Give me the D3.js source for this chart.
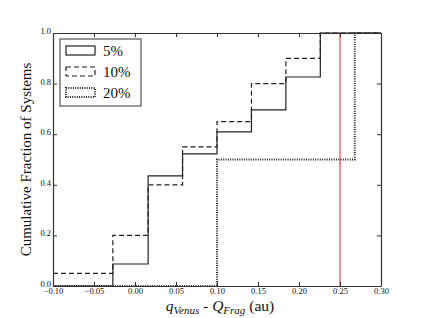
<!DOCTYPE html>
<html>
<head>
<meta charset="utf-8">
<script src="https://cdn.jsdelivr.net/npm/d3@7"></script>
<style>
  body { margin: 0; background: #fff; }
  svg text { font-family: "Liberation Serif", "Times New Roman", Times, "DejaVu Serif", serif !important; }
</style>
</head>
<body>
<div id="vis"></div>
<script>
const FRAME_WIDTH = 424;
const FRAME_HEIGHT = 318;
const MARGINS = {left: 53, right: 43, top: 33, bottom: 32};

// data
const X_TICKS = [-0.10, -0.05, 0.00, 0.05, 0.10, 0.15, 0.20, 0.25, 0.30];
const Y_TICKS = [0.0, 0.2, 0.4, 0.6, 0.8, 1.0];

const EDGES_5 = [-0.10, -0.027, 0.016, 0.058, 0.100, 0.142, 0.184, 0.226, 0.30];
const CUM_5 = [0.0, 0.087, 0.435, 0.522, 0.609, 0.696, 0.826, 1.0, 1.0];

const EDGES_10 = [-0.10, -0.027, 0.016, 0.058, 0.100, 0.142, 0.184, 0.226, 0.30];
const CUM_10 = [0.05, 0.20, 0.40, 0.55, 0.65, 0.80, 0.90, 1.0, 1.0];

const EDGES_20 = [-0.10, 0.100, 0.268, 0.30];
const CUM_20 = [0.0, 0.5, 1.0, 1.0];

const VENUS_LINE = 0.25;

const SERIES = [
  {label: "5%", edges: EDGES_5, cum: CUM_5, dash: null, width: 1.2},
  {label: "10%", edges: EDGES_10, cum: CUM_10, dash: "5,3", width: 1.2},
  {label: "20%", edges: EDGES_20, cum: CUM_20, dash: "1,1.3", width: 2}
];

const VIS_WIDTH = FRAME_WIDTH - MARGINS.left - MARGINS.right;
const VIS_HEIGHT = FRAME_HEIGHT - MARGINS.top - MARGINS.bottom;

const FRAME = d3.select("#vis")
  .append("svg")
    .attr("width", FRAME_WIDTH)
    .attr("height", FRAME_HEIGHT);

const X_SCALE = d3.scaleLinear().domain([-0.10, 0.30]).range([MARGINS.left, MARGINS.left + VIS_WIDTH]);
const Y_SCALE = d3.scaleLinear().domain([0, 1]).range([MARGINS.top + VIS_HEIGHT, MARGINS.top]);

// step curves
const stepLine = d3.line()
  .x(d => X_SCALE(d[0]))
  .y(d => Y_SCALE(d[1]))
  .curve(d3.curveStepAfter);

SERIES.forEach(s => {
  const pts = s.edges.map((e, i) => [e, s.cum[i]]);
  FRAME.append("path")
    .attr("d", stepLine(pts))
    .attr("fill", "none")
    .attr("stroke", "#222")
    .attr("stroke-width", s.width)
    .attr("stroke-dasharray", s.dash);
});

// red vertical line
FRAME.append("line")
  .attr("x1", X_SCALE(VENUS_LINE)).attr("x2", X_SCALE(VENUS_LINE))
  .attr("y1", Y_SCALE(0)).attr("y2", Y_SCALE(1))
  .attr("stroke", "#e02020")
  .attr("stroke-width", 1);

// axes, ticks pointing inward on all sides
const fmtX = d => d3.format(".2f")(d).replace("-", "\u2212");
const fmtY = d3.format(".1f");

const axBottom = FRAME.append("g")
  .attr("transform", "translate(0," + Y_SCALE(0) + ")")
  .call(d3.axisBottom(X_SCALE).tickValues(X_TICKS).tickFormat(fmtX).tickSizeInner(-4).tickSizeOuter(0).tickPadding(2));
const axTop = FRAME.append("g")
  .attr("transform", "translate(0," + Y_SCALE(1) + ")")
  .call(d3.axisTop(X_SCALE).tickValues(X_TICKS).tickFormat("").tickSizeInner(-4).tickSizeOuter(0));
const axLeft = FRAME.append("g")
  .attr("transform", "translate(" + X_SCALE(-0.10) + ",0)")
  .call(d3.axisLeft(Y_SCALE).tickValues(Y_TICKS).tickFormat(fmtY).tickSizeInner(-4).tickSizeOuter(0).tickPadding(2));
const axRight = FRAME.append("g")
  .attr("transform", "translate(" + X_SCALE(0.30) + ",0)")
  .call(d3.axisRight(Y_SCALE).tickValues(Y_TICKS).tickFormat("").tickSizeInner(-4).tickSizeOuter(0));

[axBottom, axTop, axLeft, axRight].forEach(g => {
  g.attr("font-family", null);
  g.select(".domain").attr("stroke", "#333").attr("stroke-width", 1.2);
  g.selectAll(".tick line").attr("stroke", "#333");
  g.selectAll("text")
    .attr("font-size", 8.5)
    .attr("fill", "#111");
});
axLeft.selectAll(".tick text").attr("dy", "0.05em");
axBottom.selectAll(".tick text").attr("dy", "0.75em");

// legend
const legend = FRAME.append("g").attr("transform", "translate(60,39)");
legend.append("rect")
  .attr("width", 81).attr("height", 67)
  .attr("fill", "#fff")
  .attr("stroke", "#333")
  .attr("stroke-width", 1);
SERIES.forEach((s, i) => {
  const yy = 7 + i * 21;
  legend.append("rect")
    .attr("x", 6).attr("y", yy)
    .attr("width", 29).attr("height", 9)
    .attr("fill", "none")
    .attr("stroke", "#222")
    .attr("stroke-width", s.width)
    .attr("stroke-dasharray", s.dash);
  legend.append("text")
    .attr("x", 43).attr("y", yy + 10)
    .attr("font-size", 15)
    .attr("fill", "#111")
    .text(s.label);
});

// axis labels
FRAME.append("text")
  .attr("transform", "translate(31," + (MARGINS.top + VIS_HEIGHT / 2) + ") rotate(-90)")
  .attr("text-anchor", "middle")
  .attr("font-size", 15)
  .attr("fill", "#111")
  .text("Cumulative Fraction of Systems");

const xlab = FRAME.append("text")
  .attr("x", MARGINS.left + VIS_WIDTH / 2 + 3)
  .attr("y", 310.5)
  .attr("text-anchor", "middle")
  .attr("font-size", 15.5)
  .attr("fill", "#111");
xlab.append("tspan").attr("font-style", "italic").text("q");
xlab.append("tspan").attr("font-style", "italic").attr("font-size", 11).attr("dy", 3).text("Venus");
xlab.append("tspan").attr("dy", -3).text(" - ");
xlab.append("tspan").attr("font-style", "italic").text("Q");
xlab.append("tspan").attr("font-style", "italic").attr("font-size", 11).attr("dy", 3).text("Frag");
xlab.append("tspan").attr("dy", -3).text(" (au)");
</script>
</body>
</html>
